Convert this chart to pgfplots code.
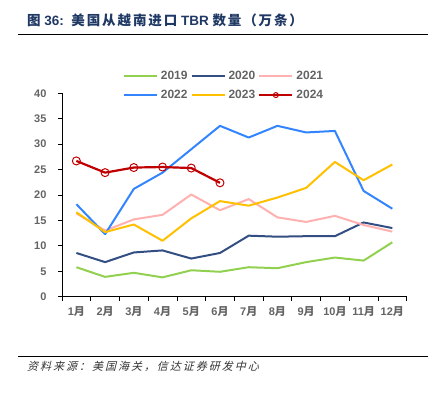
\documentclass[border=0pt]{standalone}
\usepackage{fontspec}
\usepackage{pgfplots}
\pgfplotsset{compat=1.18}
\setmainfont{Liberation Sans}
\newfontfamily\cjk{Noto Sans CJK SC}
\newfontfamily\cjkt[LetterSpace=14]{Noto Sans CJK SC}
\newfontfamily\cjkit[FakeSlant=0.25,LetterSpace=18]{Noto Sans CJK SC}
\newcommand\zh[1]{{\cjk #1}}
\newcommand\zt[1]{{\cjkt #1}}
\definecolor{c2019}{HTML}{92D050}
\definecolor{c2020}{RGB}{50,78,130}
\definecolor{c2021}{HTML}{FFB0B0}
\definecolor{c2022}{HTML}{3385FF}
\definecolor{c2023}{HTML}{FFC000}
\definecolor{c2024}{HTML}{C00000}
\definecolor{titleblue}{RGB}{31,56,100}
\definecolor{tickgray}{RGB}{100,100,100}
\begin{document}
\begin{tikzpicture}
\path[use as bounding box] (0,0) rectangle (432pt,-393pt);
\node[anchor=west,text=titleblue,font=\bfseries\fontsize{13.5}{16}\selectfont,inner sep=0pt] at (27pt,-20pt)
  {\zt{图} 36:\ \ \zt{美国从越南进口} TBR \zt{数量（万条）}};
\draw[line width=0.8pt] (18pt,-34.3pt) -- (428pt,-34.3pt);
\draw[line width=0.6pt] (18pt,-356.7pt) -- (428pt,-356.7pt);
\node[anchor=west,font=\fontsize{11}{13}\selectfont,text=black!80,inner sep=0pt] at (27pt,-366pt)
  {{\cjkit 资料来源：美国海关，信达证券研发中心}};
\begin{axis}[
  at={(62pt,-296.7pt)}, anchor=south west,
  scale only axis, width=344.7pt, height=203.4pt,
  xmin=0.5, xmax=12.5, ymin=0, ymax=40,
  axis x line*=bottom, axis y line*=left,
  axis line style={line width=0.8pt, black},
  xtick={1,...,12},
  xticklabels={1\zh{月},2\zh{月},3\zh{月},4\zh{月},5\zh{月},6\zh{月},7\zh{月},8\zh{月},9\zh{月},10\zh{月},11\zh{月},12\zh{月}},
  minor xtick={0.5,1.5,...,12.5},
  major x tick style={draw=none},
  minor tick length=4pt, major tick length=4pt,
  tick align=outside,
  tick style={black, line width=0.8pt},
  ytick={0,5,...,40},
  tick label style={text=tickgray, font=\bfseries\fontsize{11}{13}\selectfont},
  /pgf/number format/assume math mode=true,
  yticklabel style={xshift=-8pt},
  xticklabel style={yshift=-2pt},
  legend columns=3,
  legend style={at={(0.4714,1.124)}, anchor=north, draw=none, fill=none,
    font=\bfseries\fontsize{12}{14}\selectfont, text=tickgray,
    column sep=0pt, row sep=7pt, nodes={inner xsep=3pt, inner ysep=1pt}},
  legend image code/.code={\draw[mark repeat=2,mark phase=2,mark size=2.5pt,#1] plot coordinates {(0pt,0pt) (16.5pt,0pt) (33pt,0pt)};},
  every axis plot/.append style={line width=2pt, line join=round},
]
\addplot[c2019] coordinates {(1,5.8)(2,3.9)(3,4.7)(4,3.8)(5,5.2)(6,4.9)(7,5.8)(8,5.6)(9,6.8)(10,7.7)(11,7.1)(12,10.7)};
\addlegendentry{2019}
\addplot[c2020] coordinates {(1,8.6)(2,6.8)(3,8.7)(4,9.1)(5,7.5)(6,8.6)(7,12.0)(8,11.8)(9,11.9)(10,11.9)(11,14.6)(12,13.5)};
\addlegendentry{2020}
\addplot[c2021] coordinates {(1,16.4)(2,13.0)(3,15.2)(4,16.1)(5,20.1)(6,17.0)(7,19.2)(8,15.6)(9,14.7)(10,15.9)(11,14.1)(12,12.8)};
\addlegendentry{2021}
\addplot[c2022] coordinates {(1,18.2)(2,12.3)(3,21.2)(4,24.4)(5,29.0)(6,33.6)(7,31.3)(8,33.6)(9,32.3)(10,32.6)(11,20.8)(12,17.3)};
\addlegendentry{2022}
\addplot[c2023] coordinates {(1,16.6)(2,12.7)(3,14.2)(4,11.0)(5,15.4)(6,18.8)(7,17.9)(8,19.5)(9,21.4)(10,26.5)(11,22.9)(12,26.0)};
\addlegendentry{2023}
\addplot[c2024, line width=2.2pt, mark=o, mark size=4pt, mark options={line width=1pt, fill=white}] coordinates {(1,26.7)(2,24.4)(3,25.4)(4,25.5)(5,25.3)(6,22.4)};
\addlegendentry{2024}
\end{axis}
\end{tikzpicture}
\end{document}
